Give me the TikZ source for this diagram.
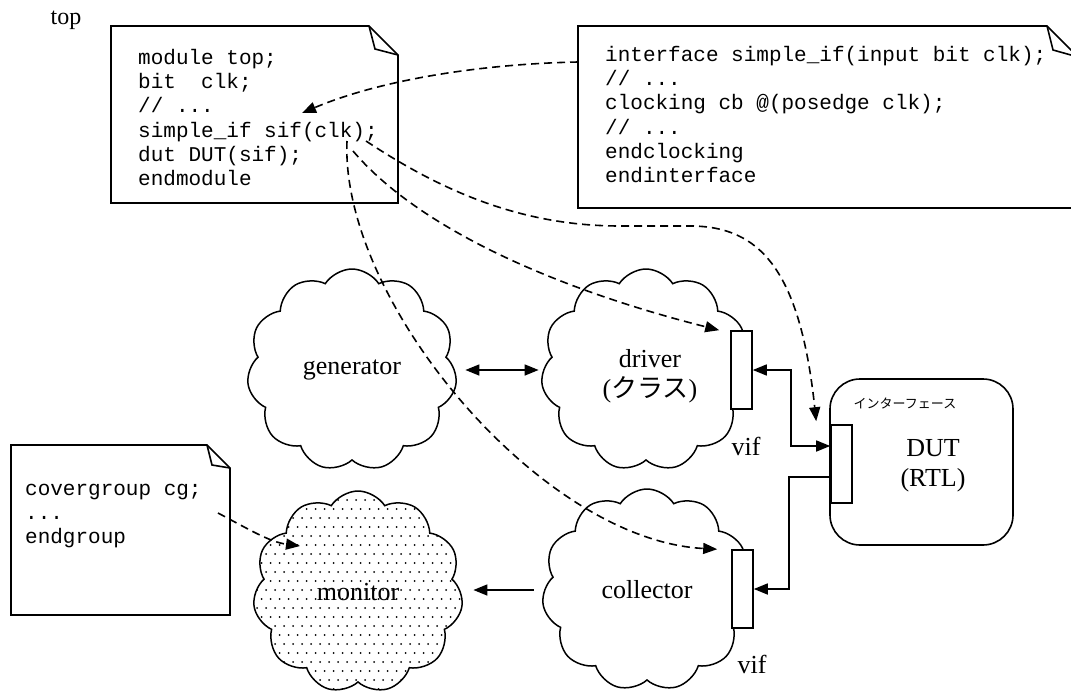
\documentclass[tikz,border=0pt]{standalone}
\usepackage{fontspec}
\setmainfont{Liberation Serif}
\newfontfamily\codefont{Liberation Mono}
\newfontfamily\jp{Noto Sans CJK JP}
\usetikzlibrary{shapes.symbols,arrows.meta}
\begin{document}
\begin{tikzpicture}[x=1pt,y=-1pt,
  lw/.style={line width=1.6pt},
  note/.style={line width=1.6pt, line join=miter},
  code/.style={font=\codefont\fontsize{21}{24.2}\selectfont, align=left, inner sep=0pt, anchor=north west},
  lbl/.style={font=\fontsize{26}{30}\selectfont, align=center, inner sep=0pt},
  cl/.style={cloud, draw, line width=1.5pt, cloud puffs=11, cloud puff arc=115, cloud ignores aspect,
     minimum width=210pt, minimum height=202pt, inner sep=0pt, font=\fontsize{26}{30}\selectfont, align=center},
  port/.style={draw, fill=white, line width=1.6pt, minimum width=21pt, minimum height=78pt, inner sep=0pt},
  tip/.style={-{Triangle[length=14pt,width=11pt]}},
  dtip/.style={{Triangle[length=14pt,width=11pt]}-{Triangle[length=14pt,width=11pt]}},
  dsh/.style={dash pattern=on 8pt off 5pt, line width=1.6pt}
]
\useasboundingbox (0,0) rectangle (1071,693);
\fill[white] (0,0) rectangle (1071,693);

\node[lbl, font=\fontsize{24}{28}\selectfont] (toplbl) at (66,20) {top};

% top-left note
\draw[note, fill=white] (111,26) -- (369,26) -- (398,55) -- (398,203) -- (111,203) -- cycle;
\draw[note] (369,26) -- (375,49) -- (398,55);
\node[code] (tlcode) at (138,49) {module top;\\bit\ \ clk;\\// ...\\simple\_if sif(clk);\\dut DUT(sif);\\endmodule};

% top-right note
\draw[note, fill=white] (578,26) -- (1047,26) -- (1078,57) -- (1078,208) -- (578,208) -- cycle;
\draw[note] (1047,26) -- (1053,50) -- (1078,57);
\node[code] (rcode) at (605,46) {interface simple\_if(input bit clk);\\// ...\\clocking cb @(posedge clk);\\// ...\\endclocking\\endinterface};

% covergroup note
\draw[note, fill=white] (11,445) -- (207,445) -- (230,468) -- (230,615) -- (11,615) -- cycle;
\draw[note] (207,445) -- (212,465) -- (230,468);
\node[code] (cgcode) at (25,484) {covergroup cg;\\...\\endgroup};

% clouds
\node[cl] (gen) at (352,370) {generator};
\node[cl] (drv) at (646,370) {};
\node[lbl] (drvtxt) at (650,376) {driver\\({\jp クラス})};
\node[cl] (col) at (647,590) {collector};
\node[cl, path picture={
  \foreach \j in {0,...,24}{\foreach \i in {0,...,25}{
    \fill (path picture bounding box.north west) ++({\i*9+mod(\j,2)*4.5},{\j*9}) circle (1pt);}}
}] (mon) at (358,592) {monitor};

% ports
\node[port] (dvif) at (741.5,370) {};
\node[port] (cvif) at (742.5,589) {};
\node[lbl] (dviflbl) at (746,446) {vif};
\node[lbl] (cviflbl) at (752,664) {vif};

% DUT
\node[draw, rounded corners=30pt, line width=1.6pt, minimum width=183pt, minimum height=166pt] (dut) at (921.5,462) {};
\node[lbl] (duttxt) at (933,466) {DUT\\(RTL)};
\node[font=\jp\fontsize{13}{13}\selectfont, inner sep=0pt] (iflbl) at (905,403) {インターフェース};
\node[port] (dport) at (841.5,464) {};

% solid connectors
\draw[lw, dtip, shorten <=10pt, shorten >=4pt] (gen.east) -- (drv.west);
\draw[lw, dtip] (dvif.east) -- ++(38,0) |- ([yshift=18pt]dport.west);
\draw[lw, tip] ([yshift=-13pt]dport.west) -- ++(-41,0) |- (cvif.east);
\draw[lw, tip, shorten <=10pt, shorten >=12pt] (col.west) -- (col.west -| mon.east);

% dashed connectors
\coordinate (rs) at (578,62);
\coordinate (sifpt) at (302,113);
\coordinate (c1) at (347,141);
\coordinate (c2) at (353,151);
\coordinate (c3) at (366,141);
\coordinate (cgs) at (218,513);
\coordinate (monpt) at (300,546);
\draw[dsh, tip] (rs) .. controls (480,64) and (380,80) .. (sifpt);
\draw[dsh, tip] (c1) .. controls (340,300) and (540,540) .. ([xshift=-14pt]cvif.north west);
\draw[dsh, tip] (c2) .. controls (420,230) and (560,290) .. ([xshift=-11pt]dvif.north west);
\draw[dsh, tip] (c3) .. controls (440,190) and (520,226) .. (620,226) -- (690,226)
   .. controls (760,226) and (800,270) .. ([xshift=-14pt,yshift=3pt]dport.north west);
\draw[dsh, tip] (cgs) .. controls (250,530) and (270,542) .. (monpt);
\end{tikzpicture}
\end{document}
